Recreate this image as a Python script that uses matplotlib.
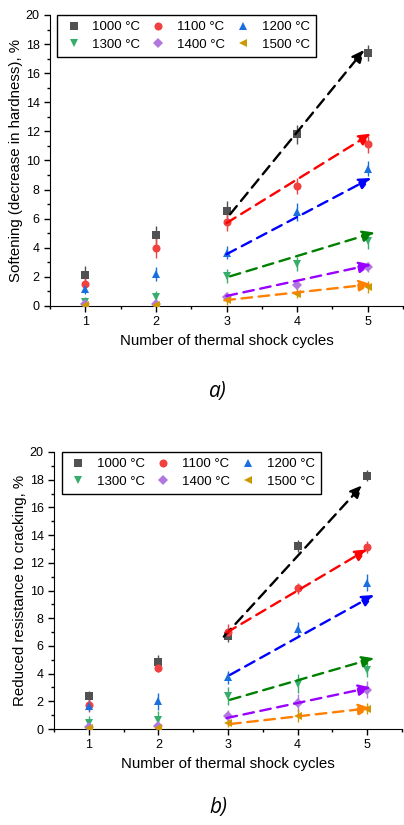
import matplotlib
matplotlib.use('Agg')
import matplotlib.pyplot as plt
from matplotlib.lines import Line2D
from matplotlib.ticker import MultipleLocator

plt.rcParams['font.family'] = ['Liberation Sans', 'DejaVu Sans']

cycles = [1, 2, 3, 4, 5]
labels = ['1000 °C', '1100 °C', '1200 °C', '1300 °C', '1400 °C', '1500 °C']
colors = ['#515151', '#F14040', '#1A6FDF', '#37AD6B', '#B177DE', '#CC9900']
markers = ['s', 'o', '^', 'v', 'D', '<']
arrow_colors = ['black', '#ff0000', '#0000ff', '#008000', '#9900ff', '#ff8000']

# a) softening
soft_vals = [
    [2.15, 4.85, 6.55, 11.8, 17.4],
    [1.5, 4.0, 5.75, 8.25, 11.1],
    [1.2, 2.2, 3.67, 6.47, 9.45],
    [0.3, 0.65, 2.06, 2.9, 4.45],
    [0.12, 0.16, 0.62, 1.42, 2.7],
    [0.1, 0.1, 0.4, 0.85, 1.3],
]
soft_err = [
    [0.6, 0.65, 0.65, 0.65, 0.55],
    [0.5, 0.7, 0.6, 0.55, 0.6],
    [0.4, 0.45, 0.43, 0.6, 0.5],
    [0.3, 0.4, 0.45, 0.5, 0.5],
    [0.2, 0.25, 0.35, 0.45, 0.35],
    [0.2, 0.2, 0.3, 0.3, 0.4],
]
soft_start = [(3.05, 6.3), (3.0, 5.7), (3.0, 3.56), (3.05, 2.04), (3.0, 0.69), (2.97, 0.39)]
soft_end = [(4.95, 17.6), (5.05, 11.85), (5.05, 8.8), (5.1, 5.05), (5.05, 2.84), (5.05, 1.49)]

# b) reduced resistance to cracking
crack_vals = [
    [2.35, 4.87, 6.75, 13.2, 18.3],
    [1.7, 4.44, 7.03, 10.16, 13.16],
    [1.68, 1.99, 3.72, 7.23, 10.56],
    [0.43, 0.67, 2.4, 3.27, 4.27],
    [0.12, 0.19, 0.96, 1.87, 2.83],
    [0.07, 0.07, 0.43, 0.96, 1.46],
]
crack_err = [
    [0.4, 0.45, 0.45, 0.45, 0.4],
    [0.5, 0.3, 0.55, 0.4, 0.45],
    [0.4, 0.6, 0.5, 0.5, 0.6],
    [0.5, 0.6, 0.65, 0.7, 0.55],
    [0.2, 0.25, 0.4, 0.65, 0.6],
    [0.2, 0.2, 0.3, 0.45, 0.4],
]
crack_start = [(2.94, 6.67), (2.98, 6.96), (3.03, 3.91), (3.03, 2.11), (2.98, 0.79), (3.03, 0.36)]
crack_end = [(4.93, 17.6), (5.0, 12.97), (5.1, 9.68), (5.1, 5.11), (5.05, 3.0), (5.05, 1.51)]

fig = plt.figure(figsize=(4.04, 8.25), dpi=100)
ax1 = fig.add_axes([50 / 404, 1 - 306 / 825, 353 / 404, 291 / 825])
ax2 = fig.add_axes([54 / 404, 1 - 729 / 825, 348 / 404, 277 / 825])


def draw(ax, vals, errs, starts, ends, ylabel, leg_x):
    handles = []
    for i in range(len(labels)):
        ms = 4.8 if markers[i] == 'D' else 5.8
        ax.errorbar(cycles, vals[i], yerr=errs[i], fmt=markers[i], color=colors[i],
                    ecolor=colors[i], elinewidth=1, capsize=2.5, capthick=1,
                    markersize=ms, markeredgewidth=0, zorder=3)
        handles.append(Line2D([], [], linestyle='none', marker=markers[i], color=colors[i],
                              markersize=ms, markeredgewidth=0))
    for i in range(len(labels)):
        ax.annotate('', xy=ends[i], xytext=starts[i],
                    arrowprops=dict(arrowstyle='-|>,head_length=0.6,head_width=0.28',
                                    color=arrow_colors[i], lw=1.7,
                                    linestyle=(0, (4.5, 2.8)), mutation_scale=12,
                                    shrinkA=0, shrinkB=0), zorder=4)
    ax.set_xlim(0.5, 5.5)
    ax.set_ylim(0, 20)
    ax.xaxis.set_major_locator(MultipleLocator(1))
    ax.xaxis.set_minor_locator(MultipleLocator(0.5))
    ax.yaxis.set_major_locator(MultipleLocator(2))
    ax.yaxis.set_minor_locator(MultipleLocator(1))
    ax.spines['top'].set_visible(False)
    ax.spines['right'].set_visible(False)
    ax.tick_params(which='major', direction='out', length=4, width=1, labelsize=9, colors='black')
    ax.tick_params(which='minor', direction='out', length=2.5, width=1)
    ax.set_xlabel('Number of thermal shock cycles', fontsize=10.8, labelpad=4)
    ax.set_ylabel(ylabel, fontsize=10.8, labelpad=2)
    order = [0, 3, 1, 4, 2, 5]
    leg = ax.legend([handles[k] for k in order], [labels[k] for k in order], ncol=3,
                    loc='upper left', bbox_to_anchor=(leg_x, 1.0), fontsize=9.5,
                    frameon=True, fancybox=False, edgecolor='black', framealpha=1,
                    handletextpad=0.6, columnspacing=0.6, handlelength=1.6,
                    borderpad=0.45, labelspacing=0.4, borderaxespad=0)
    leg.get_frame().set_linewidth(1)


draw(ax1, soft_vals, soft_err, soft_start, soft_end,
     'Softening (decrease in hardness), %', 0.02)
draw(ax2, crack_vals, crack_err, crack_start, crack_end,
     'Reduced resistance to cracking, %', 0.023)

fig.text(218 / 404, 1 - 392 / 825, 'a)', fontsize=15, style='italic', family='Open Sans',
         ha='center', va='center')
fig.text(218 / 404, 1 - 808 / 825, 'b)', fontsize=15, style='italic', family='Open Sans',
         ha='center', va='center')

fig.savefig('out.png', dpi=100)
